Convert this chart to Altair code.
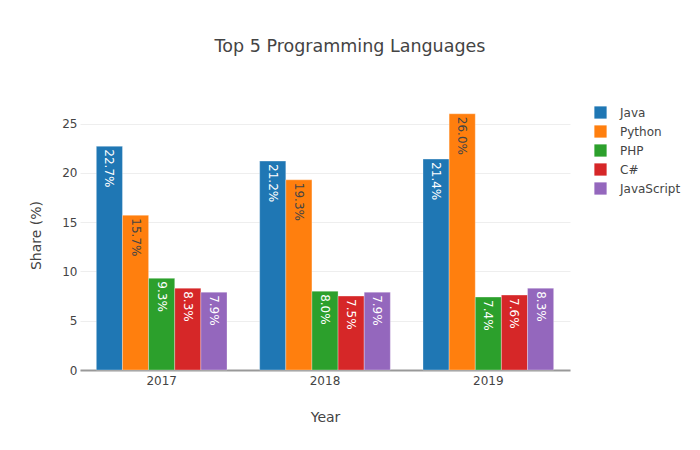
import altair as alt
import pandas as pd

years = ["2017", "2018", "2019"]
languages = ["Java", "Python", "PHP", "C#", "JavaScript"]
colors = ["#1f77b4", "#ff7f0e", "#2ca02c", "#d62728", "#9467bd"]
java = [22.7, 21.2, 21.4]
python = [15.7, 19.3, 26.0]
php = [9.3, 8.0, 7.4]
csharp = [8.3, 7.5, 7.6]
javascript = [7.9, 7.9, 8.3]

series = [java, python, php, csharp, javascript]
rows = []
for lang, vals in zip(languages, series):
    for y, v in zip(years, vals):
        rows.append({"Year": y, "Language": lang, "Share": v,
                     "Label": f"{v:.1f}%"})
df = pd.DataFrame(rows)

font = "DejaVu Sans"
x = alt.X("Year:N", title="Year",
          scale=alt.Scale(paddingInner=0.2, paddingOuter=0.1),
          axis=alt.Axis(labelAngle=0, labelFontSize=12, labelColor="#444",
                        labelFont=font, titleFont=font, titleFontSize=14,
                        titleColor="#444", titleFontWeight="normal",
                        titlePadding=24, ticks=False, domainColor="#999",
                        domainWidth=2, labelPadding=5))
y = alt.Y("Share:Q", title="Share (%)",
          scale=alt.Scale(domain=[0, 27.4], nice=False),
          axis=alt.Axis(values=[0, 5, 10, 15, 20, 25], labelFontSize=12,
                        labelColor="#444", labelFont=font, titleFont=font,
                        titleFontSize=14, titleColor="#444",
                        titleFontWeight="normal", titlePadding=18,
                        ticks=False, domain=False, gridColor="#eee",
                        labelPadding=3))
xoff = alt.XOffset("Language:N", sort=languages,
                   scale=alt.Scale(domain=languages, paddingInner=0, paddingOuter=0))
color = alt.Color("Language:N", sort=languages,
                  scale=alt.Scale(domain=languages, range=colors),
                  legend=alt.Legend(title=None, orient="none", legendX=514,
                                    legendY=6, symbolType="square",
                                    symbolSize=150, symbolStrokeWidth=0,
                                    labelFont=font, labelFontSize=12,
                                    labelColor="#444", rowPadding=6,
                                    labelOffset=13))

bars = alt.Chart(df).mark_bar(stroke="white", strokeWidth=0.5, strokeOpacity=0.6).encode(
    x=x, y=y, xOffset=xoff, color=color)

text = alt.Chart(df).mark_text(angle=90, align="left", baseline="middle",
                               dx=3, fontSize=12, font=font).encode(
    x=x, y=y, xOffset=xoff, text="Label:N",
    color=alt.condition(alt.datum.Language == "Python", alt.value("#444"),
                        alt.value("white")))

chart = alt.layer(bars, text).properties(
    width=490, height=270,
    autosize=alt.AutoSizeParams(type="none"),
    padding={"left": 72, "top": 92, "right": 122, "bottom": 70},
    title=alt.TitleParams("Top 5 Programming Languages", font=font,
                          fontSize=17.5, color="#444", fontWeight="normal",
                          dx=25, offset=45, anchor="middle"),
).configure_view(stroke=None)

chart.save("out.html", embed_options={"renderer": "svg", "actions": False})
